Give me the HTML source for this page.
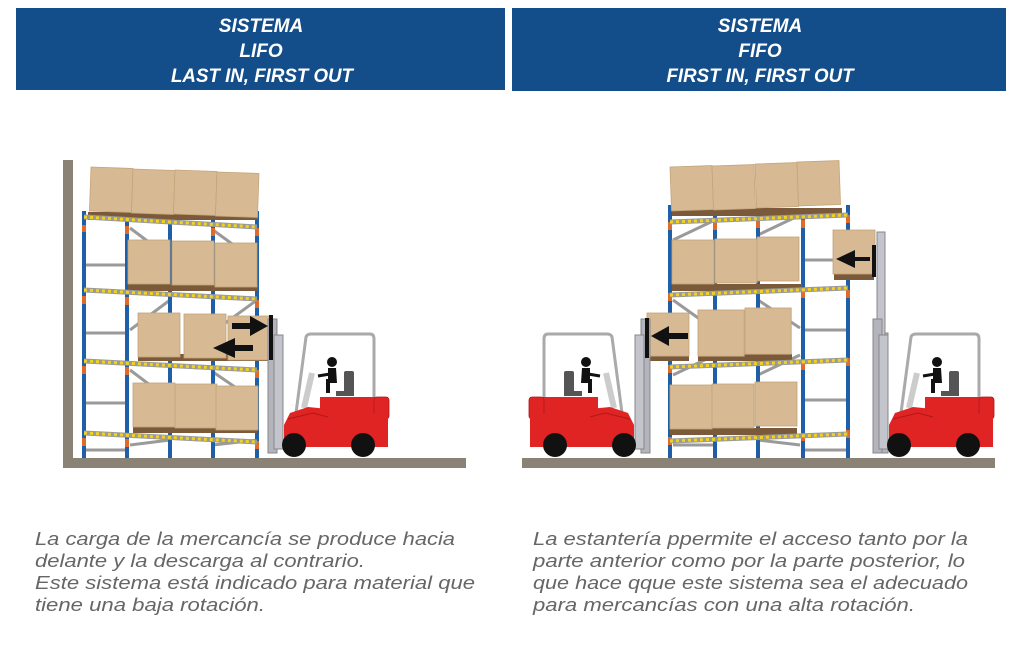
<!DOCTYPE html>
<html><head><meta charset="utf-8"><style>
html,body{margin:0;padding:0;background:#fff;}
svg{display:block;}
.h{font-family:"Liberation Sans",sans-serif;font-weight:bold;font-style:italic;font-size:19px;fill:#fff;}
.p{font-family:"Liberation Sans",sans-serif;font-style:italic;font-size:18px;fill:#666;}
</style></head><body>
<svg width="1024" height="648" viewBox="0 0 1024 648" xmlns="http://www.w3.org/2000/svg">
<defs>
<g id="box">
 <rect x="0" y="0" width="42" height="44" fill="#d7ba93" stroke="#c4a47a" stroke-width="0.8"/>
</g>
<g id="fork">
 <rect x="0" y="-134" width="9" height="134" fill="#b4b4bc" stroke="#888" stroke-width="1"/>
 <rect x="6" y="-118" width="9" height="114" fill="#c4c4cc" stroke="#888" stroke-width="1"/>
 <path d="M28,-40 L38,-116 Q39,-119 43,-119 L102,-119 Q106,-119 106,-114 L106,-52" fill="none" stroke="#aaa" stroke-width="3"/>
 <path d="M44,-80 L36,-45" stroke="#ccc" stroke-width="6"/>
 <rect x="76" y="-82" width="10" height="24" fill="#555" rx="2"/>
 <rect x="68" y="-62" width="18" height="5" fill="#555"/>
 <circle cx="64" cy="-91" r="5" fill="#111"/>
 <path d="M60,-85 L68,-85 L69,-70 L62,-70 L62,-60 L58,-60 L58,-74 L60,-74 Z" fill="#111"/>
 <path d="M62,-79 L50,-77" stroke="#111" stroke-width="3"/>
 <rect x="52" y="-56" width="68" height="22" fill="#e02424"/>
 <rect x="106" y="-56" width="15" height="22" rx="3" fill="#e02424" stroke="#b01818" stroke-width="0.8"/>
 <path d="M16,-28 L22,-40 L40,-46 L120,-38 L120,-6 L16,-6 Z" fill="#e02424"/>
 <path d="M20,-34 L45,-40 L60,-36" stroke="#b01818" stroke-width="1" fill="none"/>
 <circle cx="26" cy="-8" r="12" fill="#111"/>
 <circle cx="95" cy="-8" r="12" fill="#111"/>
</g>
</defs>

<rect x="16" y="8" width="489" height="82" fill="#134e8a"/>
<rect x="512" y="8" width="494" height="83" fill="#134e8a"/>
<text class="h" x="261" y="32" text-anchor="middle">SISTEMA</text>
<text class="h" x="261" y="57" text-anchor="middle">LIFO</text>
<text class="h" x="262" y="82" text-anchor="middle" textLength="182" lengthAdjust="spacingAndGlyphs">LAST IN, FIRST OUT</text>
<text class="h" x="760" y="32" text-anchor="middle">SISTEMA</text>
<text class="h" x="760" y="57" text-anchor="middle">FIFO</text>
<text class="h" x="760" y="82" text-anchor="middle" textLength="187" lengthAdjust="spacingAndGlyphs">FIRST IN, FIRST OUT</text>

<rect x="63" y="160" width="10" height="308" fill="#8b8276"/>
<rect x="63" y="458" width="403" height="10" fill="#8b8276"/>
<g stroke="#9a9a9a" stroke-width="3">
 <line x1="84" y1="265" x2="127" y2="265"/><line x1="84" y1="333" x2="127" y2="333"/><line x1="84" y1="403" x2="127" y2="403"/><line x1="84" y1="450" x2="127" y2="450"/>
 <line x1="130" y1="228" x2="170" y2="258"/><line x1="213" y1="230" x2="257" y2="262"/>
 <line x1="130" y1="330" x2="170" y2="300"/><line x1="213" y1="332" x2="257" y2="300"/>
 <line x1="130" y1="370" x2="170" y2="400"/><line x1="213" y1="372" x2="257" y2="402"/>
 <line x1="130" y1="445" x2="170" y2="440"/><line x1="213" y1="445" x2="257" y2="440"/>
</g>
<g stroke="#1f5fa8" stroke-width="4">
 <line x1="84" y1="211" x2="84" y2="458"/><line x1="127" y1="211" x2="127" y2="458"/><line x1="170" y1="211" x2="170" y2="458"/><line x1="213" y1="211" x2="213" y2="458"/><line x1="257" y1="211" x2="257" y2="458"/>
</g>
<g stroke="#e06a2a" stroke-width="4">
 <line x1="84" y1="225" x2="84" y2="232"/><line x1="127" y1="226" x2="127" y2="234"/><line x1="213" y1="228" x2="213" y2="236"/><line x1="257" y1="228" x2="257" y2="236"/>
 <line x1="84" y1="296" x2="84" y2="304"/><line x1="127" y1="297" x2="127" y2="305"/><line x1="257" y1="300" x2="257" y2="308"/>
 <line x1="84" y1="366" x2="84" y2="374"/><line x1="127" y1="367" x2="127" y2="375"/><line x1="257" y1="370" x2="257" y2="378"/>
 <line x1="84" y1="438" x2="84" y2="446"/><line x1="127" y1="439" x2="127" y2="447"/><line x1="257" y1="441" x2="257" y2="449"/>
</g>
<g>
 <rect x="88" y="212" width="170" height="8" fill="#7a5a3a"/>
 <use href="#box" transform="translate(91,167) rotate(2)"/><use href="#box" transform="translate(133,169) rotate(2)"/><use href="#box" transform="translate(175,170) rotate(2)"/><use href="#box" transform="translate(217,172) rotate(2)"/>
 <rect x="128" y="284" width="130" height="7" fill="#7a5a3a"/>
 <use href="#box" transform="translate(128,240)"/><use href="#box" transform="translate(172,241)"/><use href="#box" transform="translate(215,243)"/>
 <rect x="138" y="354" width="134" height="7" fill="#7a5a3a"/>
 <use href="#box" transform="translate(138,313)"/><use href="#box" transform="translate(184,314)"/><use href="#box" transform="translate(228,316) scale(1.05,1)"/>
 <rect x="133" y="426" width="124" height="7" fill="#7a5a3a"/>
 <use href="#box" transform="translate(133,383)"/><use href="#box" transform="translate(175,384)"/><use href="#box" transform="translate(216,386)"/>
</g>
<g stroke="#9a9a9a" stroke-width="5" fill="none">
 <path d="M84,217 L257,227"/><path d="M84,290 L257,299"/><path d="M84,361 L257,370"/><path d="M84,433 L257,442"/>
</g>
<g stroke="#f2d21a" stroke-width="3" stroke-dasharray="3,3" fill="none">
 <path d="M84,217 L257,227"/><path d="M84,290 L257,299"/><path d="M84,361 L257,370"/><path d="M84,433 L257,442"/>
</g>
<use href="#fork" transform="translate(268,453)"/>
<rect x="269" y="315" width="4" height="45" fill="#111"/>
<path d="M232,323 L250,323 L250,316 L268,326 L250,336 L250,329 L232,329 Z" fill="#111"/>
<path d="M253,345 L235,345 L235,338 L213,348 L235,358 L235,351 L253,351 Z" fill="#111"/>

<rect x="522" y="458" width="473" height="10" fill="#8b8276"/>
<g stroke="#9a9a9a" stroke-width="3">
 <line x1="803" y1="260" x2="848" y2="260"/><line x1="803" y1="330" x2="848" y2="330"/><line x1="803" y1="400" x2="848" y2="400"/><line x1="803" y1="450" x2="848" y2="450"/>
 <line x1="673" y1="240" x2="715" y2="220"/><line x1="758" y1="235" x2="800" y2="215"/>
 <line x1="673" y1="300" x2="715" y2="330"/><line x1="758" y1="300" x2="800" y2="328"/>
 <line x1="673" y1="375" x2="715" y2="355"/><line x1="758" y1="375" x2="800" y2="355"/>
 <line x1="673" y1="445" x2="715" y2="445"/><line x1="758" y1="440" x2="800" y2="445"/>
</g>
<g stroke="#1f5fa8" stroke-width="4">
 <line x1="670" y1="205" x2="670" y2="458"/><line x1="715" y1="210" x2="715" y2="458"/><line x1="758" y1="210" x2="758" y2="458"/><line x1="803" y1="210" x2="803" y2="458"/><line x1="848" y1="205" x2="848" y2="458"/>
</g>
<g stroke="#e06a2a" stroke-width="4">
 <line x1="670" y1="222" x2="670" y2="230"/><line x1="715" y1="222" x2="715" y2="230"/><line x1="758" y1="220" x2="758" y2="228"/><line x1="803" y1="220" x2="803" y2="228"/><line x1="848" y1="215" x2="848" y2="223"/>
 <line x1="670" y1="293" x2="670" y2="301"/><line x1="803" y1="290" x2="803" y2="298"/><line x1="848" y1="290" x2="848" y2="298"/>
 <line x1="670" y1="365" x2="670" y2="373"/><line x1="803" y1="362" x2="803" y2="370"/><line x1="848" y1="358" x2="848" y2="366"/>
 <line x1="670" y1="437" x2="670" y2="445"/><line x1="803" y1="433" x2="803" y2="441"/><line x1="848" y1="430" x2="848" y2="438"/>
</g>
<g>
 <rect x="672" y="208" width="170" height="8" fill="#7a5a3a"/>
 <use href="#box" transform="translate(670,167) rotate(-2)"/><use href="#box" transform="translate(712,166) rotate(-2)"/><use href="#box" transform="translate(755,164) rotate(-2)"/><use href="#box" transform="translate(797,162) rotate(-2)"/>
 <rect x="672" y="284" width="130" height="7" fill="#7a5a3a"/>
 <use href="#box" transform="translate(672,240)"/><use href="#box" transform="translate(715,239)"/><use href="#box" transform="translate(757,237)"/>
 <rect x="698" y="354" width="94" height="7" fill="#7a5a3a"/>
 <use href="#box" transform="translate(698,310) scale(1.1,1.05)"/><use href="#box" transform="translate(745,308) scale(1.1,1.05)"/>
 <rect x="670" y="428" width="127" height="7" fill="#7a5a3a"/>
 <use href="#box" transform="translate(670,385)"/><use href="#box" transform="translate(712,384)"/><use href="#box" transform="translate(755,382)"/>
 <rect x="834" y="274" width="40" height="6" fill="#7a5a3a"/>
 <use href="#box" transform="translate(833,230)"/>
 <rect x="647" y="355" width="42" height="6" fill="#7a5a3a"/>
 <use href="#box" transform="translate(647,313) scale(1,0.98)"/>
</g>
<g stroke="#9a9a9a" stroke-width="5" fill="none">
 <path d="M670,222 L848,215"/><path d="M670,295 L848,288"/><path d="M670,367 L848,360"/><path d="M670,441 L848,434"/>
</g>
<g stroke="#f2d21a" stroke-width="3" stroke-dasharray="3,3" fill="none">
 <path d="M670,222 L848,215"/><path d="M670,295 L848,288"/><path d="M670,367 L848,360"/><path d="M670,441 L848,434"/>
</g>
<g transform="translate(873,453)">
 <rect x="0" y="-120" width="15" height="120" fill="#b4b4bc" stroke="#888"/>
 <rect x="4" y="-221" width="8" height="118" fill="#c4c4cc" stroke="#888"/>
</g>
<g transform="translate(887,453)"><use href="#fork" transform="translate(-14,0)"/></g>
<rect x="872" y="245" width="4" height="32" fill="#111"/>
<path d="M870,257 L855,257 L855,250 L836,259 L855,268 L855,261 L870,261 Z" fill="#111"/>
<g transform="translate(650,453) scale(-1,1)"><use href="#fork"/></g>
<rect x="645" y="318" width="4" height="40" fill="#111"/>
<path d="M688,333 L669,333 L669,326 L651,336 L669,346 L669,339 L688,339 Z" fill="#111"/>

<text class="p" x="35" y="545" textLength="420" lengthAdjust="spacingAndGlyphs">La carga de la mercancía se produce hacia</text>
<text class="p" x="35" y="567" textLength="330" lengthAdjust="spacingAndGlyphs">delante y la descarga al contrario.</text>
<text class="p" x="35" y="589" textLength="440" lengthAdjust="spacingAndGlyphs">Este sistema está indicado para material que</text>
<text class="p" x="35" y="611" textLength="230" lengthAdjust="spacingAndGlyphs">tiene una baja rotación.</text>
<text class="p" x="533" y="545" textLength="435" lengthAdjust="spacingAndGlyphs">La estantería ppermite el acceso tanto por la</text>
<text class="p" x="533" y="567" textLength="432" lengthAdjust="spacingAndGlyphs">parte anterior como por la parte posterior, lo</text>
<text class="p" x="533" y="589" textLength="435" lengthAdjust="spacingAndGlyphs">que hace qque este sistema sea el adecuado</text>
<text class="p" x="533" y="611" textLength="382" lengthAdjust="spacingAndGlyphs">para mercancías con una alta rotación.</text>
</svg>
</body></html>
